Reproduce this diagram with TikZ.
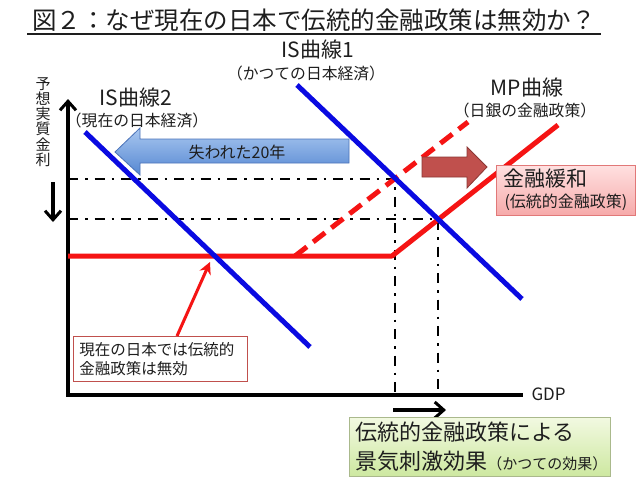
\documentclass[tikz,border=0pt]{standalone}
\usepackage{fontspec}
\setmainfont{Noto Sans CJK JP}
\usetikzlibrary{arrows.meta}

\definecolor{policyInk}{RGB}{30,30,30}
\definecolor{policyBlue}{RGB}{10,10,225}
\definecolor{policyRed}{RGB}{245,20,20}
\definecolor{lostTop}{RGB}{170,200,240}
\definecolor{lostBottom}{RGB}{85,135,210}
\definecolor{lostBorder}{RGB}{75,115,185}
\definecolor{easeFill}{RGB}{192,80,77}
\definecolor{easeBorder}{RGB}{140,55,52}
\definecolor{pinkTop}{RGB}{255,225,225}
\definecolor{pinkBottom}{RGB}{246,170,170}
\definecolor{pinkBorder}{RGB}{225,120,120}
\definecolor{greenTop}{RGB}{242,249,225}
\definecolor{greenBottom}{RGB}{205,232,160}
\definecolor{greenBorder}{RGB}{170,185,140}
\definecolor{noteBorder}{RGB}{192,80,77}

\begin{document}
\begin{tikzpicture}[x=1pt,y=-1pt,
      headline/.style={font=\fontsize{24.5}{26}\selectfont, text=policyInk},
      curveName/.style={font=\fontsize{21}{23}\selectfont, text=policyInk},
      curveNote/.style={font=\fontsize{15.8}{17}\selectfont, text=policyInk},
      axisLabel/.style={font=\fontsize{17}{19}\selectfont, text=policyInk},
      axis/.style={draw=black, line width=3.6pt,
        -{Straight Barb[length=9pt,width=16pt,line width=3pt]}},
      guide/.style={draw=black, line width=2.4pt,
        dash pattern=on 10pt off 7pt on 2.5pt off 7pt},
      isCurve/.style={draw=policyBlue, line width=5pt},
      mpCurve/.style={draw=policyRed, line width=5pt, line join=round},
      mpOld/.style={draw=policyRed, line width=5pt, dash pattern=on 15pt off 8pt},
      lostArrow/.style={top color=lostTop, bottom color=lostBottom,
        draw=lostBorder, line width=.8pt},
      easeArrow/.style={fill=easeFill, draw=easeBorder, line width=.8pt},
      pinkBox/.style={top color=pinkTop, bottom color=pinkBottom,
        draw=pinkBorder, line width=.8pt},
      greenBox/.style={top color=greenTop, bottom color=greenBottom,
        draw=greenBorder, line width=.8pt, anchor=north west,
        minimum width=261pt, minimum height=59pt, text width=249pt,
        inner xsep=6pt, inner ysep=4pt, align=left,
        font=\fontsize{22}{29}\selectfont, text=policyInk},
      noteBox/.style={fill=white, draw=noteBorder, line width=.8pt,
        anchor=north west, minimum width=174pt, minimum height=45pt,
        text width=162pt, inner xsep=6pt, inner ysep=4pt, align=left,
        font=\fontsize{15.5}{19}\selectfont, text=policyInk},
      noteArrow/.style={draw=policyRed, line width=3pt,
        -{Stealth[length=12pt,width=12pt]}}]
      \useasboundingbox (0,0) rectangle (638,479);
      \fill[white] (0,0) rectangle (638,479);

      \node[headline] (title) at (314,20) {図２：なぜ現在の日本で伝統的金融政策は無効か？};
      \draw[policyInk, line width=1.4pt] (27,34) -- (601,34);

      \node[curveName] (isOneName) at (318,50) {IS曲線1};
      \node[curveNote] (isOneNote) at (306,73) {（かつての日本経済）};
      \node[curveName] (isTwoName) at (136,98) {IS曲線2};
      \node[curveNote] (isTwoNote) at (137,120) {（現在の日本経済）};
      \node[curveName] (mpName) at (527,88) {MP曲線};
      \node[curveNote] (mpNote) at (525,110) {（日銀の金融政策）};
      \node[font=\fontsize{15}{15.2}\selectfont, text=policyInk, align=center,
        inner sep=0pt] (rateLabel) at (43,122) {予\\想\\実\\質\\金\\利};

      \coordinate (origin) at (68,395);
      \coordinate (yTip) at (68,99);
      \coordinate (xTip) at (523,395);
      \coordinate (eqOld) at (395,179);
      \coordinate (eqNew) at (438,219);
      \coordinate (eqNow) at (212,256);

      \draw[guide] (eqOld -| origin) -- (eqOld) -- (eqOld |- origin);
      \draw[guide] (eqNew -| origin) -- (eqNew) -- (eqNew |- origin);

      \draw[axis, {Straight Barb[length=9pt,width=16pt,line width=3pt]}-,
        line join=miter] (yTip) -- (origin) -- (xTip);
      \node[axisLabel, anchor=west] (gdpLabel) at (528,394) {GDP};
      \coordinate (dropTop) at (53,182);
      \coordinate (dropEnd) at (53,222);
      \draw[axis] (dropTop) -- (dropEnd);
      \coordinate (shiftStart) at (393,410);
      \coordinate (shiftEnd) at (446,410);
      \draw[axis] (shiftStart) -- (shiftEnd);

      \coordinate (mpStart) at (68,256);
      \coordinate (mpKink) at (392,256);
      \coordinate (mpEnd) at (558,125);
      \coordinate (mpOldStart) at (295,256);
      \coordinate (mpOldEnd) at (468,122);
      \draw[mpOld] (mpOldStart) -- (mpOldEnd);
      \draw[mpCurve] (mpStart) -- (mpKink) -- (mpEnd);

      \coordinate (isOneTop) at (297,85);
      \coordinate (isOneEnd) at (522,299);
      \coordinate (isTwoTop) at (85,132);
      \coordinate (isTwoEnd) at (310,347);
      \draw[isCurve] (isOneTop) -- (isOneEnd);
      \draw[isCurve] (isTwoTop) -- (isTwoEnd);

      \path[lostArrow] (115,152) -- (140,128) -- (140,139) -- (349,139)
        -- (349,163) -- (140,163) -- (140,175) -- cycle;
      \node[curveNote, font=\fontsize{16}{18}\selectfont] (lostText) at (237,152) {失われた20年};

      \path[easeArrow] (422,157) -- (467,157) -- (467,147) -- (487,167)
        -- (467,188) -- (467,177) -- (422,177) -- cycle;

      \path[pinkBox] (496,165) rectangle (635,215);
      \node[curveName, anchor=west] (easeName) at (500,179) {金融緩和};
      \node[curveNote, font=\fontsize{16}{18}\selectfont, anchor=west]
        (easeNote) at (501,202) {(伝統的金融政策)};

      \node[noteBox] (note) at (73,336) {現在の日本では伝統的\\金融政策は無効};
      \coordinate (noteFoot) at (177,336);
      \draw[noteArrow] (noteFoot) -- ([shift={(-2,6)}]eqNow);

      \node[greenBox] (effect) at (349,417)
        {伝統的金融政策による\\景気刺激効果{\fontsize{15}{15}\selectfont（かつての効果）}};
    \end{tikzpicture}
\end{document}
